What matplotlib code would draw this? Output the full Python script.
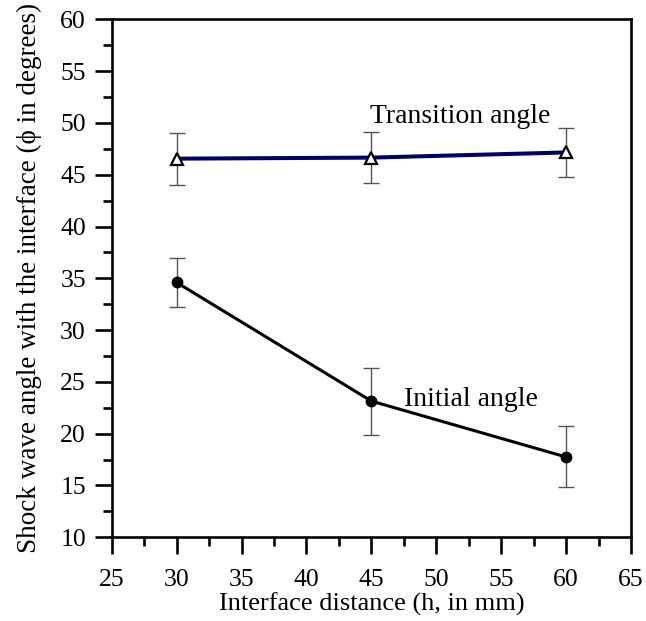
import matplotlib
matplotlib.use("Agg")
import matplotlib.pyplot as plt
from matplotlib.ticker import MultipleLocator

plt.rcParams['font.family'] = ['Liberation Serif', 'DejaVu Serif']

distance = [30, 45, 60]
transition = [46.55, 46.65, 47.15]
transition_err = [2.5, 2.45, 2.4]
initial = [34.6, 23.15, 17.75]
initial_err_up = [2.35, 3.2, 2.95]
initial_err_dn = [2.35, 3.3, 2.85]

fig = plt.figure(figsize=(6.46, 6.21), dpi=100)
ax = fig.add_axes([0.1729, 0.1348, 0.8039, 0.8341])

ax.errorbar(distance, transition, yerr=transition_err, fmt='none', ecolor='#555555',
            elinewidth=1.0, capsize=6, capthick=1.0, zorder=2)
ax.plot(distance, transition, color='#000066', lw=2.9, zorder=3)
ax.plot(distance, transition, ls='none', marker='^', ms=9, mfc='white', mec='black', mew=1.6, zorder=4)

ax.errorbar(distance, initial, yerr=[initial_err_dn, initial_err_up], fmt='none', ecolor='#555555',
            elinewidth=1.0, capsize=6, capthick=1.0, zorder=2)
ax.plot(distance, initial, color='black', lw=2.2, marker='o', ms=7.5, zorder=3)

ax.text(44.9, 50.0, 'Transition angle', fontsize=20, va='baseline', ha='left')
ax.text(47.5, 22.7, 'Initial angle', fontsize=20, va='baseline', ha='left')

ax.set_xlim(25, 65)
ax.set_ylim(10, 60)
ax.xaxis.set_major_locator(MultipleLocator(5))
ax.xaxis.set_minor_locator(MultipleLocator(2.5))
ax.yaxis.set_major_locator(MultipleLocator(5))
ax.yaxis.set_minor_locator(MultipleLocator(2.5))
ax.tick_params(which='major', direction='out', length=12.5, width=1.9, labelsize=18.5)
ax.tick_params(which='minor', direction='out', length=6.8, width=1.9)
ax.tick_params(axis='x', which='major', pad=10)
ax.tick_params(axis='y', which='major', pad=6)
for s in ax.spines.values():
    s.set_linewidth(1.9)

ax.set_xlabel('Interface distance (h, in mm)', fontsize=19, labelpad=1.5)
ax.set_ylabel('Shock wave angle with the interface (\u03d5 in degrees)', fontsize=19.5, labelpad=13)

fig.savefig('out.png', dpi=100)
